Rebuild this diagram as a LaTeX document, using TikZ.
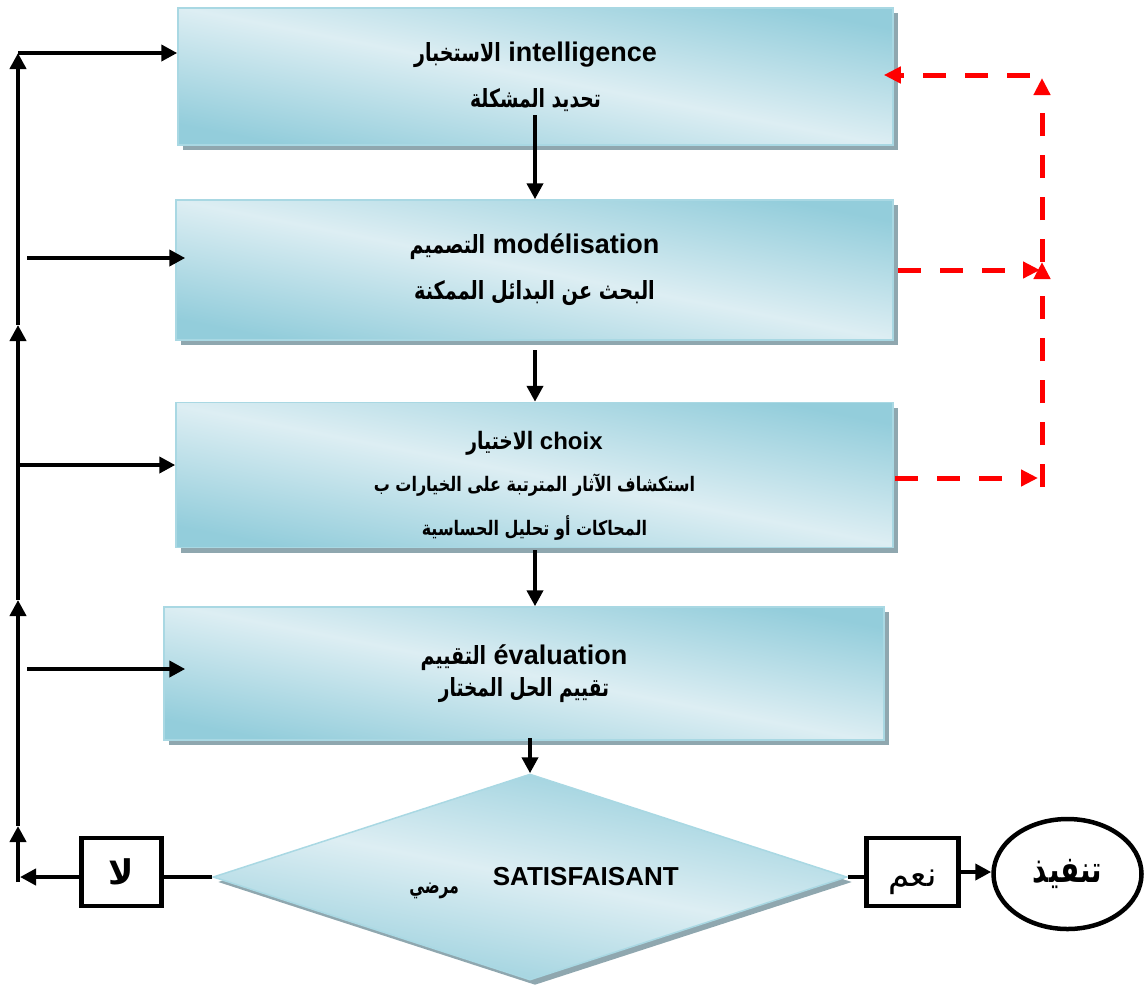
\documentclass[tikz,border=0pt]{standalone}
\usepackage{graphicx}
\usepackage{fontspec}
\setmainfont{Liberation Sans}
\newfontfamily\ar[Script=Arabic]{DejaVu Sans}
\TeXXeTstate=1
\usetikzlibrary{arrows.meta,shapes.geometric,shadows}

\definecolor{boxdark}{HTML}{93CDDB}
\definecolor{boxlight}{HTML}{DDEEF3}
\definecolor{boxedge}{HTML}{A9D8E3}
\definecolor{boxshadow}{HTML}{8FA7AF}
\definecolor{loopred}{HTML}{FF0000}

% Arabic text at a given size, narrowed horizontally
\newcommand{\ARx}[3]{\scalebox{#2}[1]{\fontsize{#1}{#1}\selectfont\ar #3}}

\tikzset{
  stage/.style={rectangle, draw=boxedge, line width=1.5pt,
    top color=boxdark, bottom color=boxdark, middle color=boxlight,
    shading angle=-11,
    general shadow={fill=boxshadow, shadow xshift=5pt, shadow yshift=-5pt},
    align=center, inner sep=0pt},
  head/.style={font=\bfseries\fontsize{27}{30}\selectfont},
  blk/.style={line width=4pt, -{Triangle[length=16pt,width=16pt]}},
  blkline/.style={line width=4.5pt},
  reddash/.style={draw=loopred, line width=5pt, dash pattern=on 23pt off 19pt,
    -{Triangle[length=17pt,width=16pt]}},
  answer/.style={rectangle, draw, line width=4.5pt, inner sep=0pt,
    minimum height=68pt}
}

\begin{document}
\begin{tikzpicture}[x=1pt,y=-1pt]
\useasboundingbox (0,0) rectangle (1145,989);

% stage boxes
\node[stage, head, minimum width=715pt, minimum height=137pt] (b1) at (535.5,76.5)
  {\ARx{25}{0.76}{\beginR الاستخبار\endR} intelligence\\[16pt]
   \ARx{25}{0.75}{\beginR تحديد المشكلة\endR}};
\node[stage, head, minimum width=717pt, minimum height=140pt] (b2) at (534.5,270)
  {\ARx{25}{0.76}{\beginR التصميم\endR} modélisation\\[16pt]
   \ARx{25}{0.77}{\beginR البحث عن البدائل الممكنة\endR}};
\node[stage, minimum width=717pt, minimum height=145pt] (b3) at (534.5,475)
  {\rule{0pt}{40pt}{\bfseries\fontsize{24}{28}\selectfont\ARx{24}{0.78}{\beginR الاختيار\endR} choix}\\[18pt]
   {\bfseries\ARx{20}{0.8}{\beginR استكشاف الآثار المترتبة على الخيارات ب\endR}}\\[18pt]
   {\bfseries\ARx{20}{0.8}{\beginR المحاكات أو تحليل الحساسية\endR}}};
\node[stage, head, minimum width=720pt, minimum height=133pt] (b4) at (524,673.5)
  {\ARx{25}{0.76}{\beginR التقييم\endR} évaluation\\[2pt]
   \ARx{25}{0.74}{\beginR تقييم الحل المختار\endR}};

% decision
\node[stage, shape=diamond, aspect=3, minimum width=634pt, minimum height=206pt,
      font=\bfseries\fontsize{26}{30}\selectfont] (dia) at (530,877)
  {\hspace*{28pt}\raisebox{-8pt}[0pt][0pt]{\ARx{22}{0.7}{\beginR مرضي\endR}}\hspace{34pt}SATISFAISANT};

% answers and outcome
\node[answer, minimum width=80pt, font=\bfseries\fontsize{34}{40}\selectfont] (no) at (121.5,872)
  {{\ar\beginR لا\endR}};
\node[answer, minimum width=92pt, font=\fontsize{34}{40}\selectfont] (yes) at (912.5,872)
  {\raisebox{-14pt}[0pt][0pt]{\ar\beginR نعم\endR}};
\node[ellipse, draw, line width=4.5pt, minimum width=148pt, minimum height=110pt,
      inner sep=0pt, font=\bfseries] (exec) at (1067.5,874)
  {\ARx{37}{0.75}{\beginR تنفيذ\endR}};

% main downward flow
\coordinate (d1) at (535,115);
\coordinate (d2) at (535,350);
\coordinate (d3) at (535,550);
\coordinate (d4) at (530,738);
\draw[blk] (d1) -- (d1 |- b2.north);
\draw[blk] (d2) -- (d2 |- b3.north);
\draw[blk] (d3) -- (d3 |- b4.north);
\draw[blk] (d4) -- (d4 |- dia.north);

% feedback trunk on the left
\coordinate (t0) at (18,882);
\coordinate (t1) at (18,826);
\coordinate (t2) at (18,600);
\coordinate (t3) at (18,325);
\coordinate (t4) at (18,53);
\draw[blk] (t0) -- (t1);
\draw[blk] (t1) -- (t2);
\draw[blk] (t2) -- (t3);
\draw[blk] (t3) -- (t4);
\draw[blk] (t4) -- (t4 -| b1.west);
\coordinate (s2) at (27,258);
\coordinate (s3) at (18,465);
\coordinate (s4) at (27,669);
\draw[blk] (s2) -- ([xshift=10pt]s2 -| b2.west);
\draw[blk] (s3) -- (s3 -| b3.west);
\draw[blk] (s4) -- ([xshift=22pt]s4 -| b4.west);

% decision outcomes
\draw[blkline] (dia.west) -- (dia.west -| no.east);
\draw[blk] (no.west |- dia.west) -- ([xshift=2pt]t0 |- dia.west);
\draw[blkline] (dia.east) -- (dia.east -| yes.west);
\draw[blk] (yes.east) -- (yes.east -| exec.west);

% dashed return loop on the right
\coordinate (r0) at (1042,487);
\coordinate (r1) at (1042,262);
\coordinate (r2) at (1042,78);
\coordinate (r3) at (1030,75);
\coordinate (q2) at (898,270);
\coordinate (q3) at (895,478);
\draw[reddash] (r0) -- (r1);
\draw[reddash] (r1) -- (r2);
\draw[reddash] (r3) -- ([xshift=-10pt]r3 -| b1.east);
\draw[reddash] (q2) -- ([xshift=-2pt]q2 -| r1);
\draw[reddash] (q3) -- ([xshift=-4pt]q3 -| r0);
\end{tikzpicture}
\end{document}
